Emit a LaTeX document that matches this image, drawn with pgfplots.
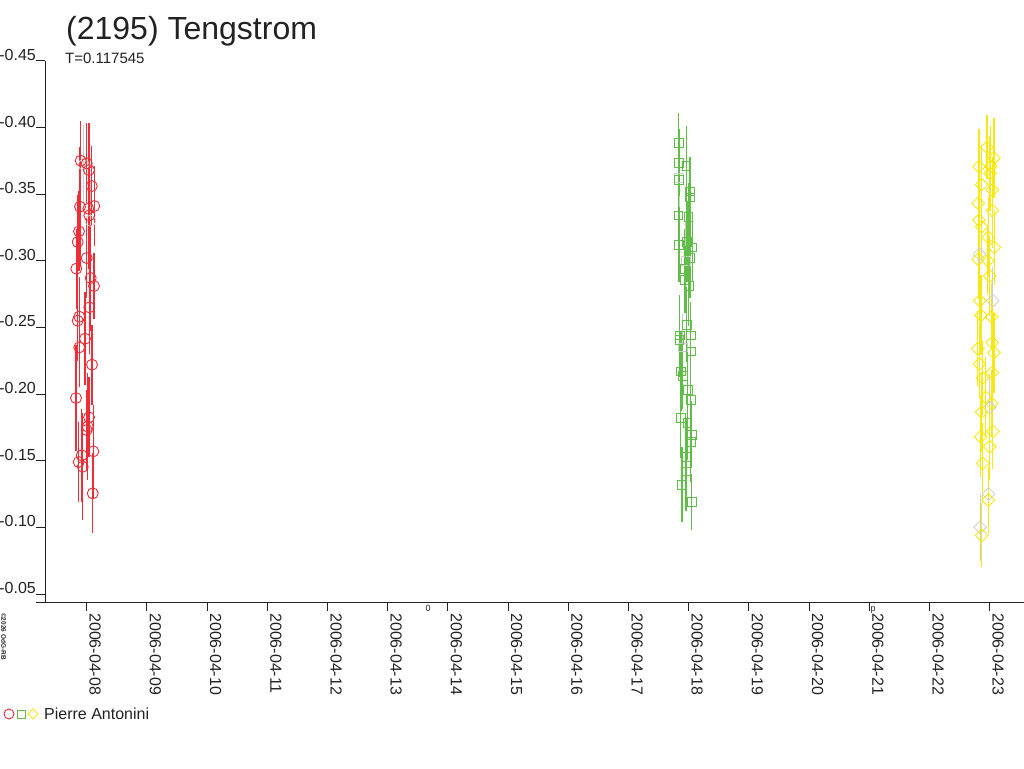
\documentclass[border=0pt]{standalone}
\usepackage{pgfplots}
\pgfplotsset{compat=1.18}
\usepackage{pgfplotstable}
\usepackage{fontspec}
\setmainfont{Liberation Sans}
\definecolor{cred}{RGB}{237,45,55}
\definecolor{cgreen}{RGB}{96,189,72}
\definecolor{cyellow}{RGB}{245,232,20}
\definecolor{cgray}{RGB}{205,205,205}
\definecolor{axc}{RGB}{34,34,34}

\pgfplotstableread{
x y e
-0.100 -0.375 0.030
0.000 -0.373 0.030
0.038 -0.368 0.035
0.083 -0.356 0.030
-0.111 -0.3405 0.045
0.126 -0.341 0.030
0.027 -0.339 0.045
0.043 -0.334 0.040
-0.128 -0.322 0.030
-0.150 -0.314 0.035
0.000 -0.302 0.030
-0.173 -0.294 0.030
0.066 -0.287 0.040
0.121 -0.281 0.025
0.043 -0.265 0.035
-0.123 -0.258 0.030
-0.150 -0.255 0.030
-0.028 -0.2415 0.035
-0.123 -0.235 0.030
0.088 -0.222 0.030
-0.178 -0.197 0.040
0.038 -0.1825 0.030
0.017 -0.1755 0.040
0.000 -0.173 0.030
0.110 -0.157 0.035
-0.133 -0.149 0.030
-0.083 -0.154 0.035
-0.066 -0.1455 0.040
0.100 -0.1255 0.030
}\redtab

\pgfplotstableread{
x y e
9.834 -0.3885 0.022
9.839 -0.3735 0.025
9.960 -0.371 0.030
9.834 -0.3605 0.028
10.022 -0.352 0.025
10.022 -0.3475 0.030
9.827 -0.334 0.030
9.993 -0.333 0.025
9.972 -0.314 0.030
9.839 -0.312 0.028
10.060 -0.310 0.025
10.022 -0.302 0.030
9.927 -0.294 0.030
9.939 -0.2855 0.025
10.000 -0.281 0.030
9.967 -0.252 0.028
10.033 -0.244 0.025
9.850 -0.244 0.030
9.844 -0.2405 0.028
10.033 -0.232 0.030
9.873 -0.217 0.030
9.900 -0.2135 0.025
9.983 -0.203 0.030
10.033 -0.1955 0.025
9.867 -0.182 0.030
9.977 -0.1785 0.028
10.050 -0.1695 0.025
10.033 -0.164 0.030
9.955 -0.153 0.028
9.955 -0.142 0.030
9.889 -0.132 0.028
10.050 -0.119 0.021
}\greentab

\pgfplotstableread{
x y e
14.955 -0.385 0.024
15.071 -0.377 0.030
14.822 -0.3705 0.028
15.017 -0.371 0.030
15.005 -0.3655 0.028
14.867 -0.357 0.030
15.043 -0.353 0.025
14.811 -0.343 0.030
15.043 -0.3375 0.028
14.822 -0.3305 0.030
14.867 -0.3255 0.025
14.977 -0.3175 0.030
15.076 -0.310 0.028
14.811 -0.301 0.030
14.967 -0.300 0.025
15.000 -0.2885 0.030
14.834 -0.270 0.028
14.856 -0.259 0.030
15.033 -0.258 0.025
15.043 -0.2385 0.030
14.801 -0.234 0.028
15.071 -0.231 0.030
14.827 -0.2225 0.025
15.043 -0.216 0.030
14.884 -0.212 0.028
14.934 -0.1975 0.030
15.033 -0.193 0.025
14.867 -0.1865 0.030
15.050 -0.172 0.028
14.850 -0.168 0.030
15.000 -0.1605 0.025
14.884 -0.148 0.030
14.977 -0.1205 0.025
14.867 -0.094 0.024
}\yellowtab

\pgfplotstableread{
x y e
-0.050 -0.372 0.030
0.060 -0.330 0.030
}\graycirc
\pgfplotstableread{
x y e
9.840 -0.362 0.030
9.950 -0.300 0.030
9.900 -0.235 0.025
}\graysq
\pgfplotstableread{
x y e
14.830 -0.305 0.030
15.050 -0.270 0.025
15.000 -0.190 0.025
14.980 -0.125 0.020
14.840 -0.100 0.025
}\graydia

\begin{document}
\begin{tikzpicture}
\useasboundingbox (-45pt,-166pt) rectangle (979pt,602pt);
\begin{axis}[
  at={(0pt,0pt)}, anchor=south west,
  scale only axis, width=979pt, height=541.3pt,
  xmin=-0.693, xmax=15.57,
  ymin=-0.45, ymax=-0.044,
  y dir=reverse,
  axis x line*=bottom, axis y line*=left,
  axis line style={axc, line width=0.9pt},
  tick align=outside,
  major tick length=9pt,
  tick style={axc, line width=0.9pt},
  xtick={0,1,2,3,4,5,6,7,8,9,10,11,12,13,14,15},
  xticklabels={2006-04-08,2006-04-09,2006-04-10,2006-04-11,2006-04-12,2006-04-13,2006-04-14,2006-04-15,2006-04-16,2006-04-17,2006-04-18,2006-04-19,2006-04-20,2006-04-21,2006-04-22,2006-04-23},
  ytick={-0.45,-0.40,-0.35,-0.30,-0.25,-0.20,-0.15,-0.10,-0.05},
  yticklabels={-0.45,-0.40,-0.35,-0.30,-0.25,-0.20,-0.15,-0.10,-0.05},
  xticklabel style={rotate=-90, anchor=base west, inner sep=0pt, yshift=3pt, xshift=2pt, font=\fontsize{16}{16}\selectfont, text=axc},
  yticklabel style={anchor=south east, inner sep=0pt, font=\fontsize{16}{16}\selectfont, text=axc},
  error bars/y dir=both, error bars/y explicit,
  error bars/error mark=none,
  clip=false,
]
\addplot[only marks, mark=o, mark size=5.5pt, color=cgray, mark options={line width=0.8pt},
  error bars/error bar style={cgray, line width=1pt}] table[x=x, y=y, y error=e] {\graycirc};
\addplot[only marks, mark=square, mark size=4.3pt, color=cgray, mark options={line width=0.8pt},
  error bars/error bar style={cgray, line width=1pt}] table[x=x, y=y, y error=e] {\graysq};
\addplot[only marks, mark=square, mark size=4.5pt, color=cgray, mark options={rotate=45, line width=0.8pt},
  error bars/error bar style={cgray, line width=1pt}] table[x=x, y=y, y error=e] {\graydia};
\addplot[only marks, mark=o, mark size=5.5pt, color=cred, mark options={line width=0.9pt},
  error bars/error bar style={cred, line width=1.2pt}] table[x=x, y=y, y error=e] {\redtab};
\addplot[only marks, mark=square, mark size=4.3pt, color=cgreen, mark options={line width=0.9pt},
  error bars/error bar style={cgreen, line width=1.2pt}] table[x=x, y=y, y error=e] {\greentab};
\addplot[only marks, mark=square, mark size=4.5pt, color=cyellow, mark options={rotate=45, line width=0.9pt},
  error bars/error bar style={cyellow, line width=1.2pt}] table[x=x, y=y, y error=e] {\yellowtab};
\end{axis}
\begin{scope}[x=1pt, y=-1pt, shift={(-45pt,602pt)}]
\draw[axc, line width=0.9pt] (36,602) -- (45,602);
\node[anchor=base west, inner sep=0pt, text=axc, font=\fontsize{32}{32}\selectfont] at (66,40) {(2195) Tengstrom};
\node[anchor=base west, inner sep=0pt, text=axc, font=\fontsize{15}{15}\selectfont] at (65,64) {T=0.117545};
\node[anchor=base, inner sep=0pt, text=axc, font=\fontsize{9}{9}\selectfont] at (428,611) {0};
\node[anchor=base, inner sep=0pt, text=axc, font=\fontsize{9}{9}\selectfont] at (873,611) {p};
\node[rotate=-90, anchor=base west, inner sep=0pt, text=axc, font=\fontsize{6.5}{6.5}\bfseries] at (1.5,613) {©2026 OdG-RB};
\draw[cred, line width=0.9pt] (9,714) circle (5);
\draw[cgreen, line width=0.9pt] (17,710) rectangle (25,718);
\draw[cyellow, line width=0.9pt] (33,709) -- (38,714) -- (33,719) -- (28,714) -- cycle;
\node[anchor=base west, inner sep=0pt, text=axc, font=\fontsize{16}{16}\selectfont] at (44,719) {Pierre Antonini};
\end{scope}
\end{tikzpicture}
\end{document}
